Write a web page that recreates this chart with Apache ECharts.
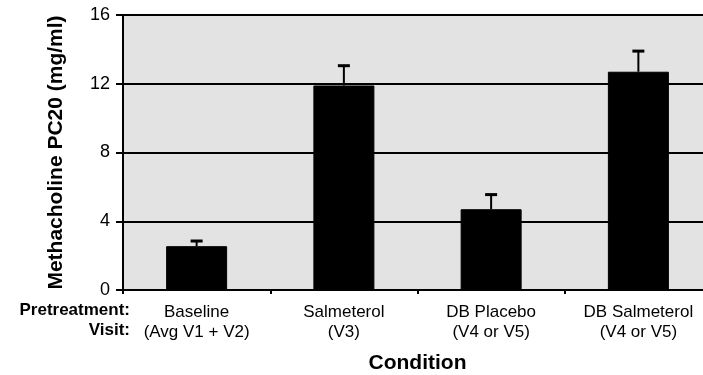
<!DOCTYPE html>
<html>
<head>
<meta charset="utf-8">
<script src="https://cdn.jsdelivr.net/npm/echarts@6/dist/echarts.min.js"></script>
<style>html,body{margin:0;padding:0;background:#fff;}#c{width:703px;height:375px;}</style>
</head>
<body>
<div id="c"></div>
<script>
const categories = ['Baseline', 'Salmeterol', 'DB Placebo', 'DB Salmeterol'];
const visits = ['(Avg V1 + V2)', '(V3)', '(V4 or V5)', '(V4 or V5)'];
const means = [2.55, 11.9, 4.7, 12.7];
const errors = [0.3, 1.15, 0.85, 1.2];
const yTicks = [0, 4, 8, 12, 16];

const font = 'Liberation Sans, Arial, sans-serif';
const chart = echarts.init(document.getElementById('c'));
chart.setOption({
  animation: false,
  grid: { left: 123, top: 15, right: -9, bottom: 85, show: true, backgroundColor: '#e3e3e3', borderWidth: 0, outerBoundsMode: 'none', containLabel: false },
  xAxis: {
    type: 'category',
    data: categories,
    name: 'Condition',
    nameLocation: 'middle',
    nameGap: 63,
    nameTextStyle: { fontFamily: font, fontWeight: 'bold', fontSize: 21, color: '#000' },
    axisLine: { lineStyle: { color: '#000', width: 2 } },
    axisTick: { show: true, length: 4, lineStyle: { color: '#000', width: 2 } },
    axisLabel: {
      interval: 0, margin: 12, fontFamily: font, fontSize: 17, color: '#000', lineHeight: 20,
      formatter: (v, i) => v + '\n' + visits[i]
    }
  },
  yAxis: {
    type: 'value', min: yTicks[0], max: yTicks[yTicks.length - 1], interval: 4,
    name: 'Methacholine PC20 (mg/ml)',
    nameLocation: 'middle',
    nameGap: 56,
    nameTextStyle: { fontFamily: font, fontWeight: 'bold', fontSize: 21, color: '#000' },
    axisLine: { show: true, lineStyle: { color: '#000', width: 2 } },
    axisTick: { show: true, length: 7, lineStyle: { color: '#000', width: 2 } },
    axisLabel: { margin: 13, fontFamily: font, fontSize: 18, color: '#000' },
    splitLine: { show: true, lineStyle: { color: '#000', width: 2 } }
  },
  graphic: [
    { type: 'text', right: 703 - 130, top: 302, style: { text: 'Pretreatment:', font: 'bold 17px ' + font, fill: '#000', textAlign: 'right' } },
    { type: 'text', right: 703 - 130, top: 322, style: { text: 'Visit:', font: 'bold 17px ' + font, fill: '#000', textAlign: 'right' } }
  ],
  series: [
    {
      type: 'bar', data: means, barWidth: 61,
      itemStyle: { color: '#000', borderColor: '#000', borderWidth: 1 },
      z: 3
    },
    {
      type: 'custom',
      z: 4,
      data: means.map((m, i) => [i, m, m + errors[i]]),
      renderItem: function (params, api) {
        const lo = api.coord([api.value(0), api.value(1)]);
        const hi = api.coord([api.value(0), api.value(2)]);
        const hw = 6;
        return {
          type: 'group',
          children: [
            { type: 'line', shape: { x1: lo[0], y1: lo[1], x2: hi[0], y2: hi[1] }, style: { stroke: '#000', lineWidth: 2 } },
            { type: 'line', shape: { x1: hi[0] - hw, y1: hi[1], x2: hi[0] + hw, y2: hi[1] }, style: { stroke: '#000', lineWidth: 3 } }
          ]
        };
      }
    }
  ]
});
</script>
</body>
</html>
